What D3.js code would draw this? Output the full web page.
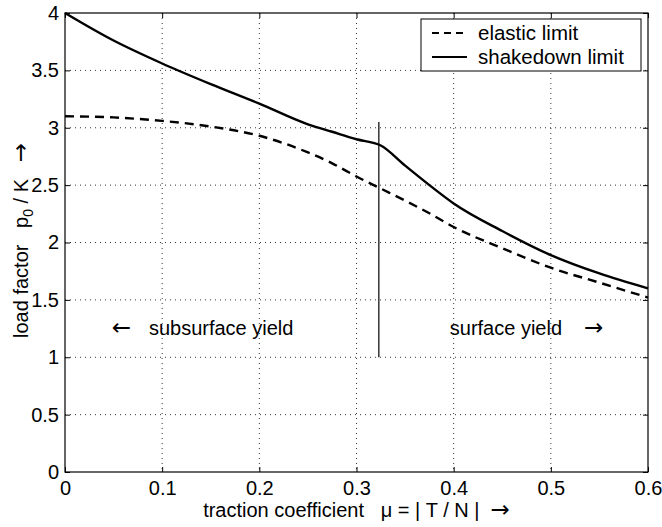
<!DOCTYPE html>
<html>
<head>
<meta charset="utf-8">
<script src="https://cdn.jsdelivr.net/npm/d3@7"></script>
<style>
	body { margin: 0; background: #fff; }
	text { font-family: "Liberation Sans", Arial, sans-serif; fill: #000; }
	.arr { font-family: "DejaVu Sans", sans-serif; font-size: 23px; }
</style>
</head>
<body>
<svg width="662" height="527"></svg>
<script>
var mu = [0, 0.05, 0.1, 0.15, 0.2, 0.25, 0.275, 0.3, 0.325, 0.35, 0.375, 0.4, 0.45, 0.5, 0.55, 0.6];
var elastic = [3.10, 3.09, 3.06, 3.01, 2.93, 2.785, 2.69, 2.575, 2.47, 2.365, 2.255, 2.135, 1.95, 1.78, 1.65, 1.52];
var shakedown = [4.00, 3.76, 3.56, 3.38, 3.21, 3.03, 2.965, 2.90, 2.845, 2.67, 2.50, 2.34, 2.10, 1.89, 1.73, 1.60];
var xTicks = [0, 0.1, 0.2, 0.3, 0.4, 0.5, 0.6];
var yTicks = [0, 0.5, 1, 1.5, 2, 2.5, 3, 3.5, 4];
var boundary = {mu: 0.323, from: 1, to: 3.05};

var svg = d3.select("svg"),
	margin = {top: 13, right: 14, bottom: 55, left: 65},
	width = +svg.attr("width") - margin.left - margin.right,
	height = +svg.attr("height") - margin.top - margin.bottom,
	g = svg.append("g").attr("transform", "translate(" + margin.left + "," + margin.top + ")");

var x = d3.scaleLinear().domain([0, 0.6]).range([0, width]);
var y = d3.scaleLinear().domain([0, 4]).range([height, 0]);

// dotted grid
g.selectAll(".gx").data(xTicks.slice(1, -1)).enter().append("line")
	.attr("x1", d => x(d)).attr("x2", d => x(d))
	.attr("y1", 0).attr("y2", height)
	.attr("stroke", "#000").attr("stroke-width", 0.8).attr("stroke-dasharray", "1,4");
g.selectAll(".gy").data(yTicks.slice(1, -1)).enter().append("line")
	.attr("y1", d => y(d)).attr("y2", d => y(d))
	.attr("x1", 0).attr("x2", width)
	.attr("stroke", "#000").attr("stroke-width", 0.8).attr("stroke-dasharray", "1,4");

// axes, ticks inside
var fmt = d3.format("");
function styleAxis(sel) {
	sel.selectAll("text").style("font-size", "20px");
	sel.select(".domain").remove();
	sel.selectAll(".tick line").attr("stroke", "#000");
}
g.append("g").attr("transform", "translate(0," + height + ")")
	.call(d3.axisBottom(x).tickValues(xTicks).tickFormat(fmt).tickSizeInner(-5).tickPadding(9))
	.call(styleAxis);
g.append("g")
	.call(d3.axisTop(x).tickValues(xTicks).tickFormat("").tickSizeInner(-5))
	.call(styleAxis);
g.append("g")
	.call(d3.axisLeft(y).tickValues(yTicks).tickFormat(fmt).tickSizeInner(-5).tickPadding(6))
	.call(styleAxis);
g.append("g").attr("transform", "translate(" + width + ",0)")
	.call(d3.axisRight(y).tickValues(yTicks).tickFormat("").tickSizeInner(-5))
	.call(styleAxis);

g.append("rect").attr("width", width).attr("height", height)
	.attr("fill", "none").attr("stroke", "#000").attr("stroke-width", 1.2);

var line = d3.line()
	.x(function(d, i) { return x(mu[i]); })
	.y(function(d) { return y(d); })
	.curve(d3.curveMonotoneX);

g.append("path").datum(elastic)
	.attr("fill", "none").attr("stroke", "#000").attr("stroke-width", 2.4)
	.attr("stroke-dasharray", "9,6").attr("d", line);
g.append("path").datum(shakedown)
	.attr("fill", "none").attr("stroke", "#000").attr("stroke-width", 2.4)
	.attr("stroke-linejoin", "round").attr("d", line);

g.append("line")
	.attr("x1", x(boundary.mu)).attr("x2", x(boundary.mu))
	.attr("y1", y(boundary.from)).attr("y2", y(boundary.to))
	.attr("stroke", "#000").attr("stroke-width", 1.2);

// region notes
var t1 = g.append("text").attr("x", x(0.048)).attr("y", y(1.19))
	.style("font-size", "20px").attr("xml:space", "preserve");
t1.append("tspan").attr("class", "arr").text("\u2190");
t1.append("tspan").attr("dx", 18).text("subsurface yield");
var t2 = g.append("text").attr("x", x(0.396)).attr("y", y(1.19))
	.style("font-size", "20px").attr("xml:space", "preserve");
t2.append("tspan").text("surface yield");
t2.append("tspan").attr("class", "arr").attr("dx", 22).text("\u2192");

// axis labels
var xl = svg.append("text").attr("x", margin.left + width / 2).attr("y", 517)
	.attr("text-anchor", "middle").style("font-size", "20px").attr("xml:space", "preserve");
xl.append("tspan").text("traction coefficient   \u03bc = | T / N |  ");
xl.append("tspan").attr("class", "arr").text("\u2192");

var yl = svg.append("text")
	.attr("transform", "translate(28," + (margin.top + height / 2 - 2) + ") rotate(-90)")
	.attr("text-anchor", "middle").style("font-size", "20px").attr("xml:space", "preserve");
yl.append("tspan").text("load factor   p");
yl.append("tspan").attr("dy", 5).style("font-size", "14px").text("0");
yl.append("tspan").attr("dy", -5).text(" / K   ");
yl.append("tspan").attr("class", "arr").text("\u2192");

// legend
var lg = svg.append("g").attr("transform", "translate(421,19)");
lg.append("rect").attr("width", 220).attr("height", 52)
	.attr("fill", "#fff").attr("stroke", "#000").attr("stroke-width", 1);
var items = [{name: "elastic limit", dash: "7,5"}, {name: "shakedown limit", dash: null}];
items.forEach(function(it, i) {
	var yy = 14 + i * 24;
	lg.append("line").attr("x1", 11).attr("x2", 46).attr("y1", yy).attr("y2", yy)
		.attr("stroke", "#000").attr("stroke-width", 2.2)
		.attr("stroke-dasharray", it.dash);
	lg.append("text").attr("x", 57).attr("y", yy).attr("dy", "0.35em")
		.style("font-size", "20.5px").text(it.name);
});
</script>
</body>
</html>
